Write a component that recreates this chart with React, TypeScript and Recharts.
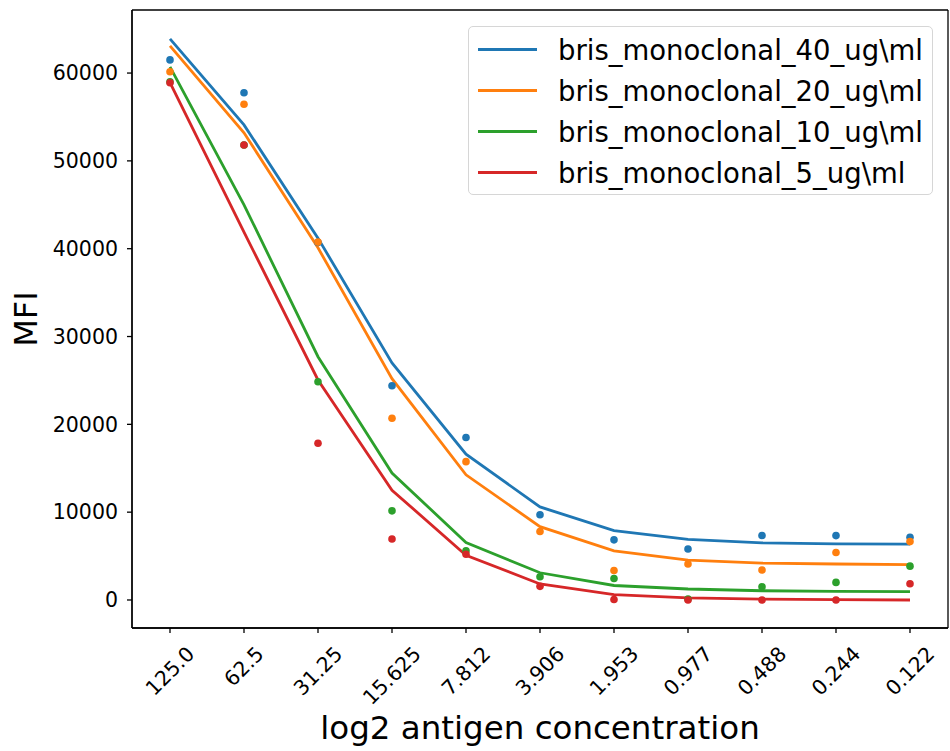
import React from "react";
import {
  ComposedChart,
  Line,
  XAxis,
  YAxis,
  Legend,
  CartesianGrid,
} from "recharts";

// antigen dilution steps (x categories)
const concentrations = [
  "125.0", "62.5", "31.25", "15.625", "7.812", "3.906",
  "1.953", "0.977", "0.488", "0.244", "0.122",
];

// measured MFI (dots)
const obs40 = [61500, 57750, 40700, 24400, 18500, 9700, 6850, 5800, 7350, 7330, 7150];
const obs20 = [60150, 56450, 40750, 20700, 15750, 7800, 3350, 4100, 3420, 5400, 6650];
const obs10 = [59000, 51800, 24850, 10150, 5600, 2650, 2450, 100, 1500, 2000, 3850];
const obs5 = [58900, 51800, 17850, 6950, 5200, 1550, 50, 0, 0, 0, 1850];

// fitted curves (lines)
const fit40 = [63900, 54100, 41200, 27000, 16600, 10600, 7900, 6900, 6500, 6400, 6350];
const fit20 = [63100, 53200, 40100, 25200, 14250, 8350, 5600, 4550, 4200, 4100, 4020];
const fit10 = [60700, 45000, 27700, 14450, 6550, 3100, 1650, 1250, 1050, 970, 950];
const fit5 = [58900, 41900, 25050, 12500, 5100, 1820, 600, 250, 100, 30, 0];

const seriesNames = [
  "bris_monoclonal_40_ug\\ml",
  "bris_monoclonal_20_ug\\ml",
  "bris_monoclonal_10_ug\\ml",
  "bris_monoclonal_5_ug\\ml",
];
const COLORS = ["#1f77b4", "#ff7f0e", "#2ca02c", "#d62728"];

const yTicks = [0, 10000, 20000, 30000, 40000, 50000, 60000];
const Y_MIN = -3190;
const Y_MAX = 67180;

const data = concentrations.map((c, i) => ({
  conc: c,
  obs40: obs40[i],
  obs20: obs20[i],
  obs10: obs10[i],
  obs5: obs5[i],
  fit40: fit40[i],
  fit20: fit20[i],
  fit10: fit10[i],
  fit5: fit5[i],
}));

const obsKeys = ["obs40", "obs20", "obs10", "obs5"];
const fitKeys = ["fit40", "fit20", "fit10", "fit5"];

const FONT = "'DejaVu Sans', sans-serif";
const TICK_FS = 20.5;

// rough DejaVu advance widths, used to center the rotated labels like matplotlib
const textWidth = (s: string) =>
  s.split("").reduce((acc, ch) => acc + (ch === "." ? 0.318 : 0.636), 0) * TICK_FS;

const XTick = (props: any) => {
  const { x, y, payload } = props;
  const s = String(payload.value);
  const w = textWidth(s);
  const cy = y + 12 + (w + TICK_FS * 0.73) * 0.3535;
  return (
    <text
      x={x}
      y={cy}
      transform={`rotate(-45, ${x}, ${cy})`}
      textAnchor="middle"
      dominantBaseline="central"
      fontSize={TICK_FS}
      fontFamily={FONT}
      fill="#000"
    >
      {s}
    </text>
  );
};

const LegendBox = () => (
  <div
    style={{
      width: 465,
      height: 169,
      boxSizing: "border-box",
      border: "1.3px solid #d6d6d6",
      borderRadius: 5,
      background: "rgba(255,255,255,0.8)",
      fontFamily: FONT,
      fontSize: 27.5,
      color: "#000",
      paddingTop: 2,
    }}
  >
    {seriesNames.map((name, i) => (
      <div
        key={name}
        style={{ display: "flex", alignItems: "center", height: 41, whiteSpace: "nowrap" }}
      >
        <div
          style={{
            width: 59,
            height: 3,
            background: COLORS[i],
            marginLeft: 9,
            marginRight: 21,
          }}
        />
        <span>{name}</span>
      </div>
    ))}
  </div>
);

export default function App() {
  return (
    <div style={{ position: "absolute", left: 0, top: 0, background: "#fff" }}>
      <ComposedChart
        width={950}
        height={751}
        data={data}
        margin={{ top: 10, right: 2, left: 0, bottom: 0 }}
      >
        {/* plot frame (matplotlib spines) drawn as grid lines on the plot edges */}
        <CartesianGrid
          stroke="#000"
          strokeWidth={1.3}
          horizontalCoordinatesGenerator={({ offset }: any) => [offset.top, offset.top + offset.height]}
          verticalCoordinatesGenerator={({ offset }: any) => [offset.left, offset.left + offset.width]}
        />
        <XAxis
          dataKey="conc"
          height={123}
          padding={{ left: 38, right: 38 }}
          interval={0}
          tick={<XTick />}
          tickSize={5}
          tickMargin={0}
          axisLine={{ stroke: "#000", strokeWidth: 1.3 }}
          tickLine={{ stroke: "#000", strokeWidth: 1.3 }}
          label={(p: any) => {
            const vb = p.viewBox;
            return (
              <text
                x={vb.x + vb.width / 2}
                y={739}
                textAnchor="middle"
                fontSize={32.5}
                fontFamily={FONT}
                fill="#000"
              >
                log2 antigen concentration
              </text>
            );
          }}
        />
        <YAxis
          width={132}
          domain={[Y_MIN, Y_MAX]}
          ticks={yTicks}
          interval={0}
          tickSize={5}
          tickMargin={9}
          axisLine={{ stroke: "#000", strokeWidth: 1.3 }}
          tickLine={{ stroke: "#000", strokeWidth: 1.3 }}
          tick={{ fontSize: TICK_FS, fontFamily: FONT, fill: "#000" }}
          label={(p: any) => {
            const vb = p.viewBox;
            const cy = vb.y + vb.height / 2;
            return (
              <text
                x={37}
                y={cy}
                transform={`rotate(-90, 37, ${cy})`}
                textAnchor="middle"
                fontSize={32}
                fontFamily={FONT}
                fill="#000"
              >
                MFI
              </text>
            );
          }}
        />
        <Legend
          layout="vertical"
          align="center"
          verticalAlign="middle"
          content={<LegendBox />}
          wrapperStyle={{ left: 468, top: 26, width: 465, height: 169 }}
        />

        {/* scatter points sit below the fitted lines */}
        {obsKeys.map((k, i) => (
          <Line
            key={k}
            dataKey={k}
            stroke="none"
            legendType="none"
            activeDot={false}
            dot={{ r: 3.8, fill: COLORS[i], stroke: "none" }}
            isAnimationActive={false}
          />
        ))}
        {fitKeys.map((k, i) => (
          <Line
            key={k}
            dataKey={k}
            name={seriesNames[i]}
            stroke={COLORS[i]}
            strokeWidth={2.8}
            dot={false}
            activeDot={false}
            isAnimationActive={false}
          />
        ))}
      </ComposedChart>
    </div>
  );
}
